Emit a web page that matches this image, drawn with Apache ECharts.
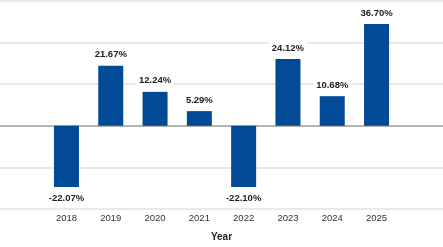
<!DOCTYPE html>
<html><head><meta charset="utf-8">
<script src="https://cdn.jsdelivr.net/npm/echarts@6/dist/echarts.min.js"></script>
<style>html,body{margin:0;padding:0;background:#fff}#c{width:443px;height:247px}</style>
</head><body><div id="c"></div>
<script>
const years = ['2018','2019','2020','2021','2022','2023','2024','2025'];
const returns = [-22.07, 21.67, 12.24, 5.29, -22.10, 24.12, 10.68, 36.70];
const yTicks = [-30, -15, 0, 15, 30, 45];
const xTitle = 'Year';

const FONT = '"Liberation Sans",Arial,sans-serif';
const cats = [''].concat(years, ['']);
const barData = [null].concat(returns.map(v => ({
  value: v,
  label: { position: v >= 0 ? 'top' : 'bottom' }
})), [null]);

const chart = echarts.init(document.getElementById('c'), null, {renderer:'canvas'});
chart.setOption({
  animation: false,
  grid: { left: 0, right: 0, top: 1, bottom: 37, containLabel: false },
  xAxis: {
    type: 'category', data: cats,
    axisLine: { show: false }, axisTick: { show: false },
    axisLabel: { fontFamily: FONT, fontSize: 9.5, color: '#333', margin: 4 },
    name: xTitle, nameLocation: 'middle', nameGap: 23,
    nameTextStyle: { fontFamily: FONT, fontSize: 10, fontWeight: 'bold', color: '#222' }
  },
  yAxis: {
    type: 'value', min: yTicks[0], max: yTicks[yTicks.length-1], interval: 15,
    axisLabel: { show: false }, axisLine: { show: false }, axisTick: { show: false },
    splitLine: { lineStyle: { width: 1.5, color: yTicks.map(t => t === 0 ? '#9a9a9a' : '#e2e2e2') } }
  },
  series: [{
    type: 'bar', data: barData, barWidth: 25,
    itemStyle: { color: '#034a96' },
    label: {
      show: true, distance: 5, fontFamily: FONT, fontSize: 9.5, fontWeight: 'bold', color: '#222',
      backgroundColor: '#fff', padding: [1, 3],
      formatter: p => p.value.toFixed(2) + '%'
    }
  }]
});
</script></body></html>
